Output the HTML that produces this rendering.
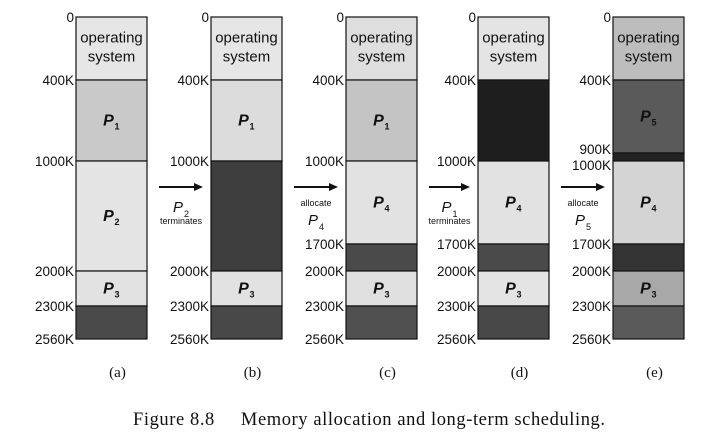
<!DOCTYPE html>
<html><head><meta charset="utf-8"><style>
html,body{margin:0;padding:0;background:#fff;}
svg{display:block;font-family:"Liberation Sans",Arial,sans-serif;}
</style></head><body>
<svg id="fig" width="708" height="437" viewBox="0 0 708 437"></svg>
<script>
// Memory addresses (K) and their pixel y positions (scanned figure is not linear)
const addrStops = [0, 400, 900, 1000, 1700, 2000, 2300, 2560];
const addrY = [17, 80, 153, 161, 244, 271, 306, 339];
const panelLabels = ["(a)", "(b)", "(c)", "(d)", "(e)"];
const panelX = [76, 211, 346, 478, 613];
const panelW = 71;
// segments: [start, end, label, sub, shade]
const panelSegments = [
  [[0,400,"os","", "#e6e6e6"],[400,1000,"P","1","#c9c9c9"],[1000,2000,"P","2","#e4e4e4"],[2000,2300,"P","3","#e2e2e2"],[2300,2560,"","","#4a4a4a"]],
  [[0,400,"os","", "#e6e6e6"],[400,1000,"P","1","#dcdcdc"],[1000,2000,"","","#3e3e3e"],[2000,2300,"P","3","#e2e2e2"],[2300,2560,"","","#484848"]],
  [[0,400,"os","", "#dedede"],[400,1000,"P","1","#c4c4c4"],[1000,1700,"P","4","#e2e2e2"],[1700,2000,"","","#4a4a4a"],[2000,2300,"P","3","#e0e0e0"],[2300,2560,"","","#505050"]],
  [[0,400,"os","", "#e4e4e4"],[400,1000,"","","#1e1e1e"],[1000,1700,"P","4","#e2e2e2"],[1700,2000,"","","#4a4a4a"],[2000,2300,"P","3","#e4e4e4"],[2300,2560,"","","#484848"]],
  [[0,400,"os","", "#bdbdbd"],[400,900,"P","5","#5a5a5a"],[900,1000,"","","#222"],[1000,1700,"P","4","#d4d4d4"],[1700,2000,"","","#333"],[2000,2300,"P","3","#a8a8a8"],[2300,2560,"","","#5a5a5a"]]
];
const panelTicks = [
  [0,400,1000,2000,2300,2560],
  [0,400,1000,2000,2300,2560],
  [0,400,1000,1700,2000,2300,2560],
  [0,400,1000,1700,2000,2300,2560],
  [0,400,900,1000,1700,2000,2300,2560]
];
const arrowTop = ["", "allocate", "", "allocate"];
const arrowP = ["2", "4", "1", "5"];
const arrowBottom = ["terminates", "", "terminates", ""];

function yOf(a){
  for(let i=0;i<addrStops.length-1;i++){
    if(a<=addrStops[i+1]){
      const t=(a-addrStops[i])/(addrStops[i+1]-addrStops[i]);
      return addrY[i]+t*(addrY[i+1]-addrY[i]);
    }
  }
  return addrY[addrY.length-1];
}
const NS="http://www.w3.org/2000/svg";
const svg=document.getElementById('fig');
function mk(tag,attrs,parent){const e=document.createElementNS(NS,tag);for(const k in attrs)e.setAttribute(k,attrs[k]);(parent||svg).appendChild(e);return e;}

panelSegments.forEach((segs,pi)=>{
  const x=panelX[pi];
  const g=mk('g',{});
  
  
  segs.forEach(s=>{
    const y0=yOf(s[0]), y1=yOf(s[1]);
    const r=mk('rect',{x:x,y:y0,width:panelW,height:y1-y0,fill:s[4],stroke:'#111','stroke-width':1.2},g);
    
    
    const cy=(y0+y1)/2;
    if(s[2]==='os'){
      const t1=mk('text',{x:x+panelW/2,y:cy-6,'text-anchor':'middle','font-size':15,fill:'#111'},g);
      t1.textContent='operating';
      
      
      const t2=mk('text',{x:x+panelW/2,y:cy+13,'text-anchor':'middle','font-size':15,fill:'#111'},g);
      t2.textContent='system';
      
      
    } else if(s[2]){
      const t=mk('text',{x:x+panelW/2-3,y:cy+5,'text-anchor':'middle','font-size':16,'font-style':'italic','font-weight':'bold',fill:'#111'},g);
      t.textContent='P';
      
      
      const ts=mk('text',{x:x+panelW/2+3,y:cy+9,'font-size':9,'font-weight':'bold',fill:'#111'},g);
      ts.textContent=s[3];
      
      
    }
  });
  panelTicks[pi].forEach(a=>{
    let y=yOf(a)+5;
    if(a===900) y-=4;
    if(a===1000 && pi===4) y+=4;
    const t=mk('text',{x:x-2,y:y,'text-anchor':'end','font-size':13.5,fill:'#111'},g);
    t.textContent=a===0?'0':a+'K';
    
    
  });
  const lab=mk('text',{x:x+panelW/2+6,y:377,'text-anchor':'middle','font-size':15,'font-family':'Liberation Serif,serif',fill:'#111'});
  lab.textContent=panelLabels[pi];
  
  
});

arrowP.forEach((p,i)=>{
  const x0=panelX[i]+panelW+12, x1=panelX[i+1]-8;
  const g=mk('g',{});
  
  
  mk('line',{x1:x0,y1:187,x2:x1-6,y2:187,stroke:'#111','stroke-width':2},g);
  mk('polygon',{points:`${x1},187 ${x1-9},183 ${x1-9},191`,fill:'#111'},g);
  const cx=(x0+x1)/2;
  let py=212;
  if(arrowTop[i]){
    const t=mk('text',{x:cx,y:206,'text-anchor':'middle','font-size':9,fill:'#111'},g);
    t.textContent=arrowTop[i];
    
    
    py=225;
  }
  const tp=mk('text',{x:cx-3,y:py,'text-anchor':'middle','font-size':15,'font-style':'italic',fill:'#111'},g);
  tp.textContent='P';
  
  
  const ts=mk('text',{x:cx+3,y:py+5,'font-size':9,fill:'#111'},g);
  ts.textContent=p;
  
  
  if(arrowBottom[i]){
    const t=mk('text',{x:cx,y:224,'text-anchor':'middle','font-size':9,fill:'#111'},g);
    t.textContent=arrowBottom[i];
    
    
  }
});

const cap=mk('text',{x:133,y:425,'font-size':18.5,'font-family':'Liberation Serif,serif',fill:'#111',textLength:472,lengthAdjust:'spacing'});
cap.textContent='Figure 8.8\u00a0\u00a0\u00a0\u00a0 Memory allocation and long-term scheduling.';


</script>
</body></html>
